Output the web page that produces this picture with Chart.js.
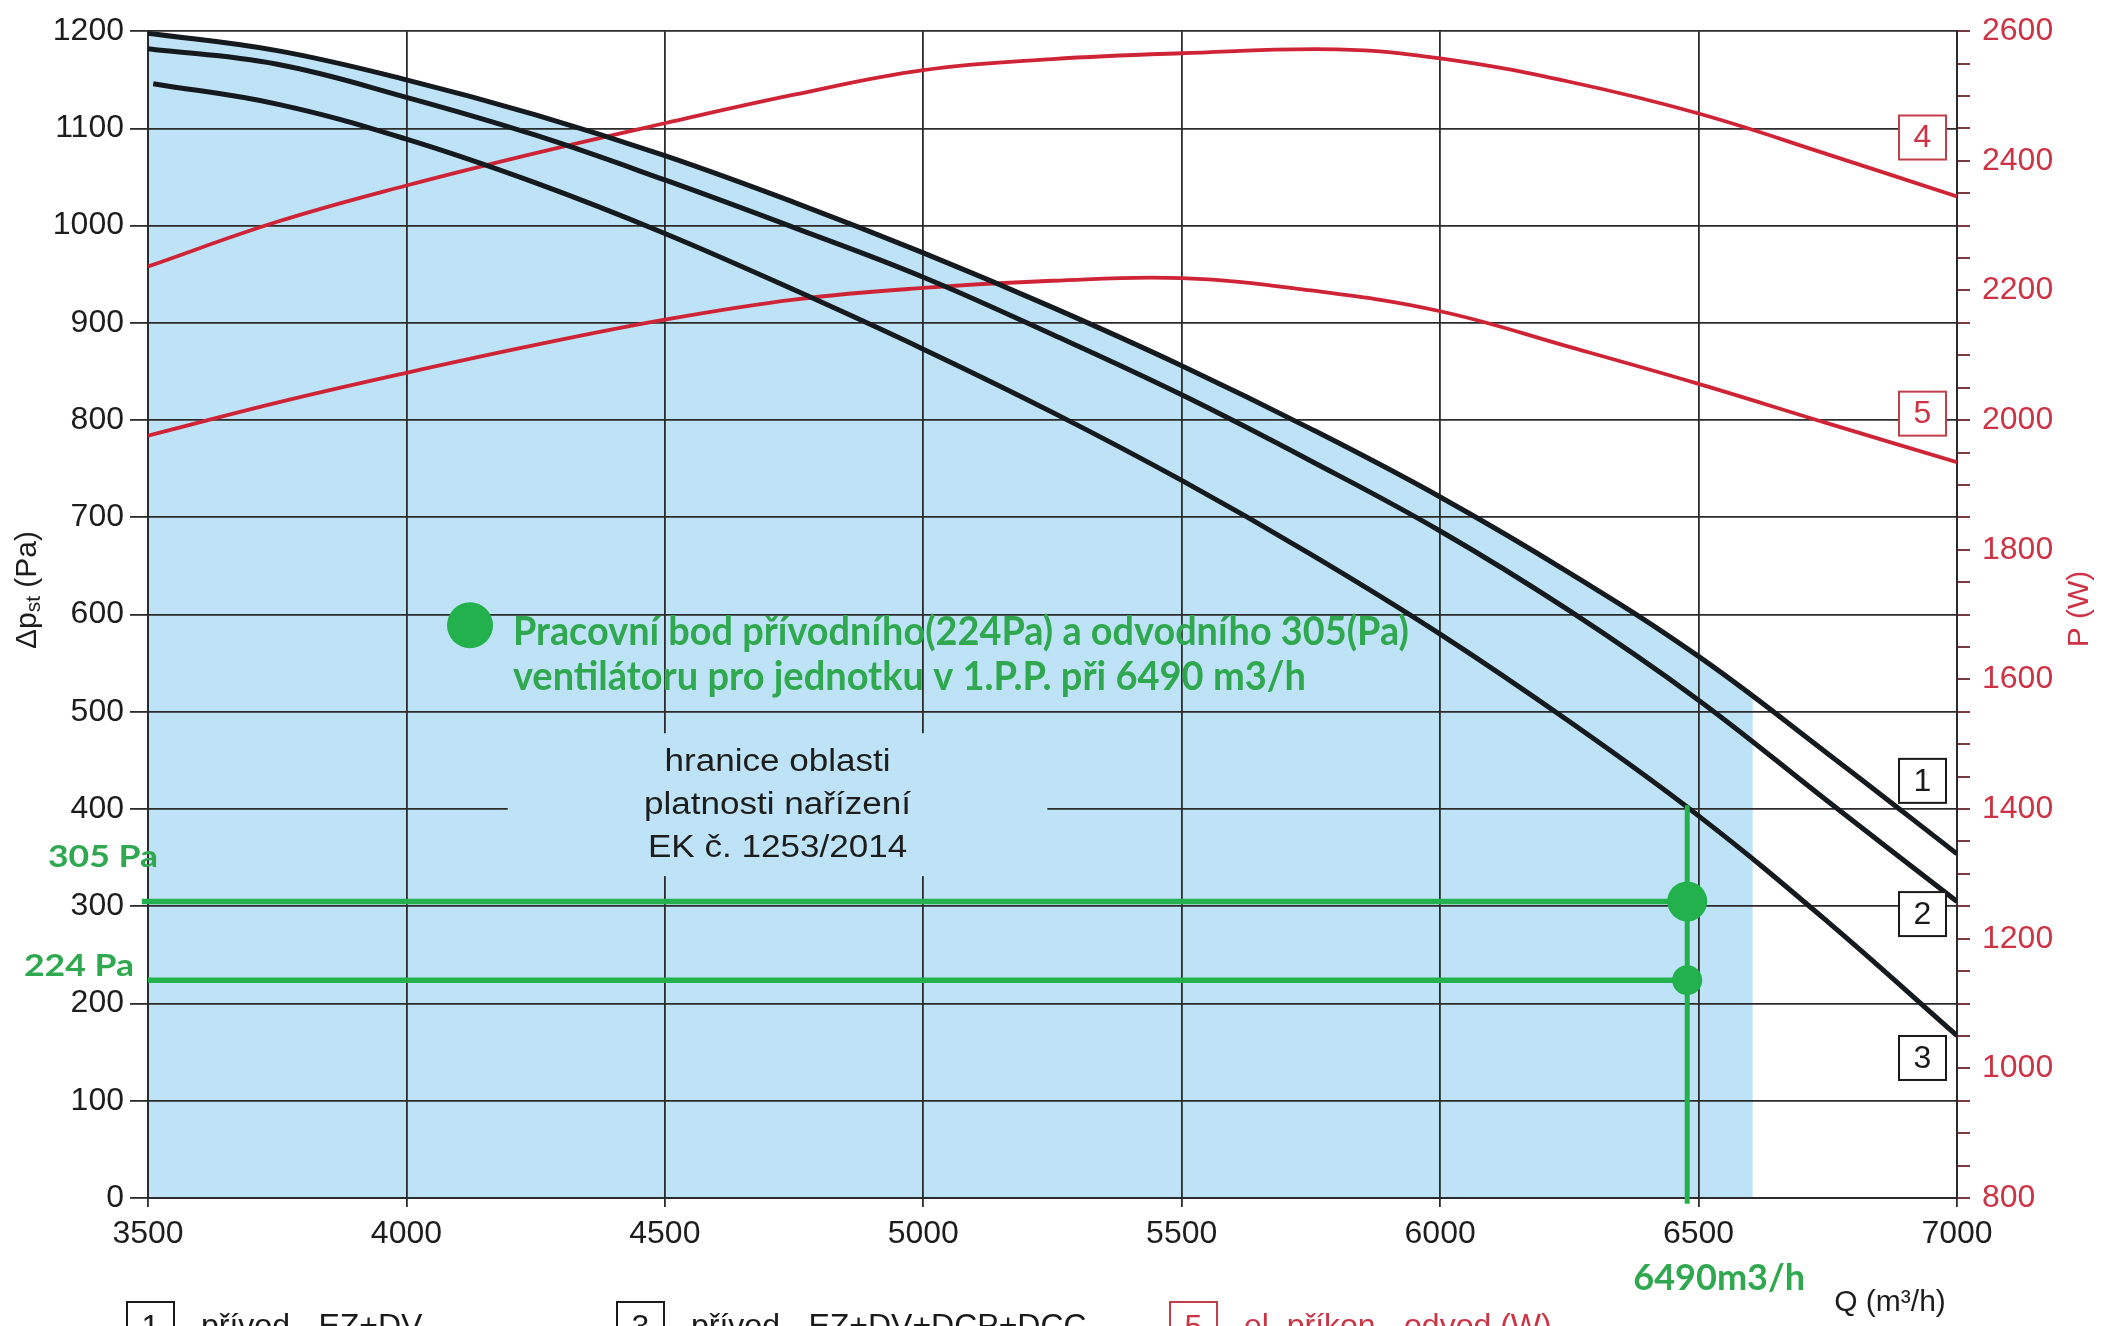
<!DOCTYPE html>
<html>
<head>
<meta charset="utf-8">
<script src="https://cdn.jsdelivr.net/npm/chart.js@4.4.1/dist/chart.umd.min.js"></script>
<style>
html,body{margin:0;padding:0;background:#fff;overflow:hidden}
#wrap{width:2104px;height:1326px;position:relative;background:#fff}
</style>
</head>
<body>
<div id="wrap"><canvas id="c" width="2104" height="1326"></canvas></div>
<script>
// ---------------- DATA ----------------
const Q_TICKS = [3500, 4000, 4500, 5000, 5500, 6000, 6500, 7000];
const Q_POINTS = [3500, 3750, 4000, 4250, 4500, 4750, 5000, 5250, 5500, 5750, 6000, 6250, 6500, 6750, 7000];
// static pressure curves (Pa)
const CURVE_1 = [1198, 1180, 1150, 1114, 1072, 1024, 972, 916, 856, 791, 721, 643, 557, 457, 354];
const CURVE_2 = [1182, 1166, 1132, 1093, 1047, 998, 947, 888, 826, 758, 686, 604, 512, 408, 305];
const Q_CURVE_3 = [3510, 3750, 4000, 4250, 4500, 4750, 5000, 5250, 5500, 5750, 6000, 6250, 6500, 6750, 7000];
const CURVE_3 = [1146, 1125, 1089, 1044, 992, 934, 873, 808, 738, 662, 580, 490, 393, 284, 167];
// power curves (W)
const Q_POWER_4 = [3500, 3750, 4000, 4250, 4500, 4750, 5000, 5250, 5500, 5800, 6000, 6250, 6500, 6750, 7000];
const POWER_4 = [2237, 2306, 2362, 2412, 2458, 2502, 2540, 2557, 2566, 2572, 2558, 2522, 2473, 2410, 2345];
const Q_POWER_5 = [3500, 3750, 4000, 4250, 4500, 4750, 5000, 5250, 5500, 5750, 6000, 6250, 6500, 6750, 7000];
const POWER_5 = [1976, 2027, 2073, 2116, 2155, 2186, 2204, 2215, 2219, 2200, 2168, 2113, 2056, 1995, 1935];
// area of validity (under curve 1 up to this flow)
const AREA_END_Q = 6605;
const AREA_END_P = 515;
// working point
const WORK_Q = 6478;
const WORK_SUPPLY_P = 224;
const WORK_EXHAUST_P = 305;
const WORK_LINE_TOP_P = 404;
const MARKER_Q = 4123;
const MARKER_P = 589;
// label boxes
const CURVE_IDS = ['1', '2', '3', '4', '5'];
const CURVE_ID_VALUES = [429, 292, 144, 2436, 2010];
const CURVE_ID_AXES = ['y', 'y', 'y', 'y2', 'y2'];
// texts
const NOTE_LINES = ['Pracovní bod přívodního(224Pa) a odvodního 305(Pa)', 'ventilátoru pro jednotku v 1.P.P. při 6490 m3/h'];
const AREA_LINES = ['hranice oblasti', 'platnosti nařízení', 'EK č. 1253/2014'];
const LEGEND_IDS = ['1', '3', '5'];
const LEGEND_TEXTS = ['přívod - EZ+DV', 'přívod - EZ+DV+DCP+DCC', 'el. příkon - odvod (W)'];

// ---------------- STYLE ----------------
const BLUE = '#bee3f6';
const GRID = '#2b2b2b';
const BLACK = '#151a1e';
const RED = '#cf2436';
const RED_TEXT = '#cc3344';
const GREEN = '#22b14c';
const GREEN_TEXT = '#2fa84f';

const pts = (xs, ys) => xs.map((x, i) => ({x, y: ys[i]}));

const areaQ = Q_POINTS.filter(q => q <= 6500).concat([AREA_END_Q]);
const areaP = CURVE_1.slice(0, areaQ.length - 1).concat([AREA_END_P]);

Chart.defaults.font.family = '"Liberation Sans", Arial, sans-serif';

function drawScaledText(ctx, text, x, y, font, targetW, align, color, baseline) {
  ctx.save();
  ctx.font = font;
  const w = ctx.measureText(text).width;
  const sx = targetW ? targetW / w : 1;
  ctx.translate(x, y);
  ctx.scale(sx, 1);
  ctx.textAlign = align || 'left';
  ctx.textBaseline = baseline || 'alphabetic';
  ctx.fillStyle = color;
  ctx.fillText(text, 0, 0);
  ctx.restore();
}

const annot = {
  id: 'annot',
  beforeDatasetsDraw(chart) {
    const {ctx, scales: {x, y}} = chart;
    // background box hiding the grid behind the regulation note
    const l = x.getPixelForValue(4196), r = x.getPixelForValue(5240);
    const t = y.getPixelForValue(478), b = y.getPixelForValue(331);
    ctx.save();
    ctx.fillStyle = BLUE;
    ctx.fillRect(l, t, r - l, b - t);
    ctx.restore();
    const cx = x.getPixelForValue(4718);
    const ys = [448, 404, 360];
    ctx.save();
    ctx.font = '31px "Liberation Sans"';
    const sx = 267 / ctx.measureText(AREA_LINES[1]).width;
    ctx.restore();
    AREA_LINES.forEach((s, i) => {
      ctx.save();
      ctx.font = '31px "Liberation Sans"';
      ctx.translate(cx, y.getPixelForValue(ys[i]));
      ctx.scale(sx, 1);
      ctx.textAlign = 'center';
      ctx.textBaseline = 'middle';
      ctx.fillStyle = '#1d1d1d';
      ctx.fillText(s, 0, 0);
      ctx.restore();
    });
  },
  afterDatasetsDraw(chart) {
    const {ctx, scales: {x, y, y2}, chartArea} = chart;
    // green note
    const nx = x.getPixelForValue(4206);
    drawScaledText(ctx, NOTE_LINES[0], nx, y.getPixelForValue(569), 'bold 41px Lato', 896, 'left', GREEN_TEXT);
    drawScaledText(ctx, NOTE_LINES[1], nx, y.getPixelForValue(522), 'bold 41px Lato', 793, 'left', GREEN_TEXT);
    // curve id boxes
    CURVE_IDS.forEach((id, i) => {
      const sc = CURVE_ID_AXES[i] === 'y' ? y : y2;
      const cy = sc.getPixelForValue(CURVE_ID_VALUES[i]);
      const red = CURVE_ID_AXES[i] === 'y2';
      const bx = chartArea.right - 58, bw = 47, bh = 44;
      ctx.save();
      ctx.fillStyle = '#fff';
      ctx.fillRect(bx, cy - bh / 2, bw, bh);
      ctx.lineWidth = 2;
      ctx.strokeStyle = red ? '#c0404a' : '#1a1a1a';
      ctx.strokeRect(bx, cy - bh / 2, bw, bh);
      ctx.font = '32px "Liberation Sans"';
      ctx.fillStyle = red ? RED_TEXT : '#1a1a1a';
      ctx.textAlign = 'center';
      ctx.textBaseline = 'middle';
      ctx.fillText(id, bx + bw / 2, cy + 1);
      ctx.restore();
    });
  },
  afterDraw(chart) {
    const {ctx, scales: {x, y}, chartArea} = chart;
    // pressure labels at the left
    drawScaledText(ctx, WORK_EXHAUST_P + ' Pa', 48, y.getPixelForValue(350), 'bold 30px Lato', 110, 'left', GREEN_TEXT, 'middle');
    drawScaledText(ctx, WORK_SUPPLY_P + ' Pa', 24, y.getPixelForValue(238), 'bold 30px Lato', 110, 'left', GREEN_TEXT, 'middle');
    // flow label
    drawScaledText(ctx, '6490m3/h', x.getPixelForValue(WORK_Q) + 32, chartArea.bottom + 80, 'bold 37px Lato', 172, 'center', GREEN_TEXT, 'middle');
    // axis titles
    ctx.save();
    ctx.font = '30px "Liberation Sans"';
    ctx.fillStyle = '#1d1d1d';
    ctx.textAlign = 'center';
    ctx.textBaseline = 'middle';
    ctx.fillText('Q (m³/h)', 1890, 1303);
    ctx.restore();
    // left title with subscript
    ctx.save();
    ctx.translate(28, 590);
    ctx.rotate(-Math.PI / 2);
    ctx.fillStyle = '#1d1d1d';
    ctx.textBaseline = 'middle';
    const big = '30px "Liberation Sans"', small = '21px "Liberation Sans"';
    ctx.font = big; const w1 = ctx.measureText('Δp').width; const w3 = ctx.measureText(' (Pa)').width;
    ctx.font = small; const w2 = ctx.measureText('st').width;
    let sxp = -(w1 + w2 + w3) / 2;
    ctx.font = big; ctx.fillText('Δp', sxp, 0); sxp += w1;
    ctx.font = small; ctx.fillText('st', sxp, 6); sxp += w2;
    ctx.font = big; ctx.fillText(' (Pa)', sxp, 0);
    ctx.restore();
    // right title
    ctx.save();
    ctx.translate(2080, 609);
    ctx.rotate(-Math.PI / 2);
    ctx.font = '30px "Liberation Sans"';
    ctx.fillStyle = RED_TEXT;
    ctx.textAlign = 'center';
    ctx.textBaseline = 'middle';
    ctx.fillText('P (W)', 0, 0);
    ctx.restore();
    // bottom legend (cut by the picture edge)
    const lx = [127, 617, 1170];
    LEGEND_IDS.forEach((id, i) => {
      const red = i === 2;
      ctx.save();
      ctx.lineWidth = 2;
      ctx.strokeStyle = red ? '#c0404a' : '#1a1a1a';
      ctx.strokeRect(lx[i], 1302, 47, 46);
      ctx.font = '32px "Liberation Sans"';
      ctx.fillStyle = red ? RED_TEXT : '#1a1a1a';
      ctx.textAlign = 'center';
      ctx.fillText(id, lx[i] + 23.5, 1337);
      ctx.textAlign = 'left';
      ctx.fillText(LEGEND_TEXTS[i], lx[i] + 74, 1336);
      ctx.restore();
    });
  }
};

const lineDs = (data, color, width, axis, order) => ({
  data, borderColor: color, borderWidth: width, pointRadius: 0, yAxisID: axis,
  tension: 0.4, fill: false, order
});

new Chart(document.getElementById('c'), {
  type: 'line',
  data: {
    datasets: [
      // area of validity
      {data: pts(areaQ, areaP), borderWidth: 0, borderColor: 'rgba(0,0,0,0)', backgroundColor: BLUE,
       fill: 'origin', pointRadius: 0, tension: 0.4, yAxisID: 'y', order: 20},
      lineDs(pts(Q_POINTS, CURVE_1), BLACK, 5, 'y', 5),
      lineDs(pts(Q_POINTS, CURVE_2), BLACK, 5, 'y', 5),
      lineDs(pts(Q_CURVE_3, CURVE_3), BLACK, 5, 'y', 5),
      lineDs(pts(Q_POWER_4, POWER_4), RED, 3.8, 'y2', 6),
      lineDs(pts(Q_POWER_5, POWER_5), RED, 3.8, 'y2', 6),
      // working point construction lines
      {data: [{x: 3488, y: WORK_EXHAUST_P}, {x: WORK_Q, y: WORK_EXHAUST_P}], borderColor: GREEN, borderWidth: 5.5,
       pointRadius: 0, tension: 0, yAxisID: 'y', clip: false, order: 2},
      {data: [{x: 3500, y: WORK_SUPPLY_P}, {x: WORK_Q, y: WORK_SUPPLY_P}], borderColor: GREEN, borderWidth: 5.5,
       pointRadius: 0, tension: 0, yAxisID: 'y', clip: false, order: 2},
      {data: [{x: WORK_Q, y: WORK_LINE_TOP_P}, {x: WORK_Q, y: -6}], borderColor: GREEN, borderWidth: 5,
       pointRadius: 0, tension: 0, yAxisID: 'y', clip: false, order: 2},
      // points
      {data: [{x: WORK_Q, y: WORK_EXHAUST_P}], showLine: false, pointRadius: 20, pointBackgroundColor: GREEN,
       pointBorderWidth: 0, yAxisID: 'y', order: 1},
      {data: [{x: WORK_Q, y: WORK_SUPPLY_P}], showLine: false, pointRadius: 15, pointBackgroundColor: GREEN,
       pointBorderWidth: 0, yAxisID: 'y', order: 1},
      {data: [{x: MARKER_Q, y: MARKER_P}], showLine: false, pointRadius: 23, pointBackgroundColor: GREEN,
       pointBorderWidth: 0, yAxisID: 'y', order: 1}
    ]
  },
  options: {
    responsive: false,
    devicePixelRatio: 1,
    animation: false,
    events: [],
    layout: {padding: {top: 23, left: 0, right: 0, bottom: 0}},
    plugins: {
      legend: {display: false},
      tooltip: {enabled: false},
      filler: {drawTime: 'beforeDraw'}
    },
    scales: {
      x: {
        type: 'linear', min: 3500, max: 7000,
        afterBuildTicks: s => { s.ticks = Q_TICKS.map(v => ({value: v})); },
        afterFit: s => { s.height = 128; },
        grid: {color: GRID, lineWidth: 1.8, tickLength: 9, tickColor: GRID},
        border: {color: GRID, width: 2},
        ticks: {color: '#1d1d1d', font: {size: 32}, padding: 8, maxRotation: 0, autoSkip: false, callback: v => String(v)}
      },
      y: {
        position: 'left', min: 0, max: 1200,
        ticks: {stepSize: 100, color: '#1d1d1d', font: {size: 32}, padding: 6, callback: v => String(v)},
        afterFit: s => { s.width = 148; },
        grid: {color: GRID, lineWidth: 1.8, tickLength: 18, tickColor: GRID},
        border: {color: GRID, width: 2}
      },
      y2: {
        position: 'right', min: 800, max: 2600,
        ticks: {stepSize: 50, autoSkip: false, color: RED_TEXT, font: {size: 32}, padding: 12,
                callback: v => (v % 200 === 0 ? String(v) : '')},
        afterFit: s => { s.width = 147; },
        grid: {drawOnChartArea: false, tickLength: 13, tickColor: '#7a3a40', lineWidth: 2},
        border: {color: GRID, width: 2}
      }
    }
  },
  plugins: [annot]
});
</script>
</body>
</html>
